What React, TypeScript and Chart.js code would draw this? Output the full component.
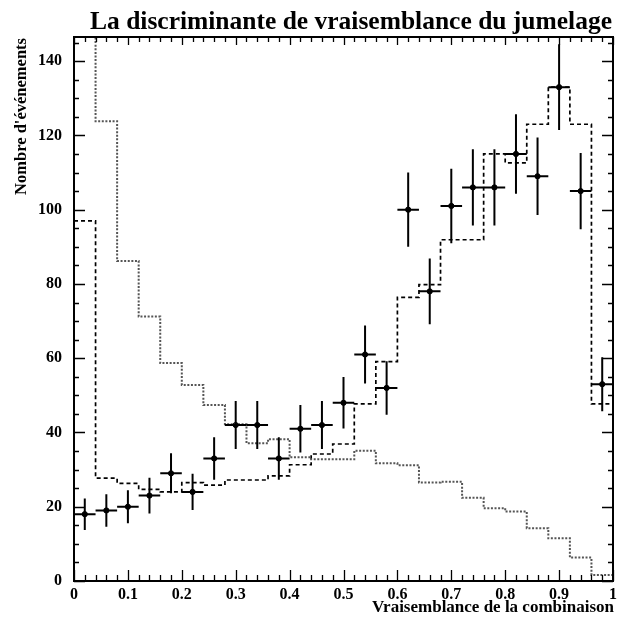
import { useEffect, useRef } from "react";
import { Chart, registerables } from "chart.js";

Chart.register(...registerables);

// Histogram binning on the likelihood axis
const binWidth = 0.04;
const binCenters = [
  0.02, 0.06, 0.1, 0.14, 0.18, 0.22, 0.26, 0.3, 0.34, 0.38, 0.42, 0.46, 0.5,
  0.54, 0.58, 0.62, 0.66, 0.7, 0.74, 0.78, 0.82, 0.86, 0.9, 0.94, 0.98,
];

// Observed event counts (error bars are sqrt(N))
const observed = [
  18, 19, 20, 23, 29, 24, 33, 42, 42, 33, 41, 42, 48, 61, 52, 100, 78, 101, 106,
  106, 115, 109, 133, 105, 53,
];

// Expected total (dashed histogram)
const expectedTotal = [
  97, 27.7, 26.3, 24.7, 24, 26.5, 25.8, 27.2, 27.2, 28.3, 31.3, 34.2, 36.9,
  47.7, 59.1, 76.4, 79.8, 91.9, 91.9, 115, 112.6, 123, 133, 123, 47.7,
];

// Expected combinatorial background (dotted histogram)
const expectedBackground = [
  190, 123.8, 86.2, 71.2, 58.7, 52.8, 47.4, 42.2, 37.1, 38.2, 33.3, 32.8, 32.8,
  35.1, 31.7, 31.2, 26.5, 26.7, 22.4, 19.6, 18.7, 14.2, 11.5, 6.3, 1.6,
];

// Axis ranges and tick spacing
const xMin = 0;
const xMax = 1;
const xMajorStep = 0.1;
const xMinorStep = 0.02;
const yMin = 0;
const yMax = 146.5;
const yMajorStep = 20;
const yMinorStep = 5;

const titleText = "La discriminante de vraisemblance du jumelage";
const xTitle = "Vraisemblance de la combinaison";
const yTitle = "Nombre d'événements";

const SERIF = "'Liberation Serif', 'Times New Roman', serif";

function stepPoints(values: number[]) {
  const pts = values.map((v, i) => ({ x: binCenters[i] - binWidth / 2, y: v }));
  const last = values.length - 1;
  pts.push({ x: binCenters[last] + binWidth / 2, y: values[last] });
  return pts;
}

const frameTicksTitles = {
  id: "frameTicksTitles",
  afterDatasetsDraw(chart: any) {
    const { ctx } = chart;
    const xs = chart.scales.x;
    const ys = chart.scales.y;
    ctx.save();
    ctx.strokeStyle = "#000";
    ctx.lineWidth = 2;
    // error bars for the observed counts
    observed.forEach((n, i) => {
      const cx = xs.getPixelForValue(binCenters[i]);
      const cy = ys.getPixelForValue(n);
      const err = Math.sqrt(n);
      const yTop = ys.getPixelForValue(n + err);
      const yBot = ys.getPixelForValue(n - err);
      const xl = xs.getPixelForValue(binCenters[i] - binWidth / 2);
      const xr = xs.getPixelForValue(binCenters[i] + binWidth / 2);
      ctx.beginPath();
      ctx.moveTo(cx, yTop);
      ctx.lineTo(cx, yBot);
      ctx.moveTo(xl, cy);
      ctx.lineTo(xr, cy);
      ctx.stroke();
    });
    ctx.restore();
  },
  afterDraw(chart: any) {
    const { ctx, chartArea: a } = chart;
    const xs = chart.scales.x;
    const ys = chart.scales.y;
    ctx.save();
    ctx.strokeStyle = "#000";

    // inward ticks on all four sides
    ctx.lineWidth = 1.3;
    ctx.beginPath();
    const nx = Math.round((xMax - xMin) / xMinorStep);
    for (let k = 0; k <= nx; k++) {
      const v = xMin + k * xMinorStep;
      const major = k % Math.round(xMajorStep / xMinorStep) === 0;
      const px = Math.round(xs.getPixelForValue(v)) + 0.5;
      ctx.moveTo(px, a.bottom);
      ctx.lineTo(px, a.bottom - (major ? 11 : 6));
      ctx.moveTo(px, a.top);
      ctx.lineTo(px, a.top + (major ? 8 : 5));
    }
    const ny = Math.floor((yMax - yMin) / yMinorStep);
    for (let k = 0; k <= ny; k++) {
      const v = yMin + k * yMinorStep;
      const major = k % Math.round(yMajorStep / yMinorStep) === 0;
      const py = Math.round(ys.getPixelForValue(v)) + 0.5;
      ctx.moveTo(a.left, py);
      ctx.lineTo(a.left + (major ? 11 : 5), py);
      ctx.moveTo(a.right, py);
      ctx.lineTo(a.right - (major ? 11 : 5), py);
    }
    ctx.stroke();

    // frame
    ctx.lineWidth = 2;
    ctx.strokeRect(a.left, a.top, a.right - a.left, a.bottom - a.top);

    // titles
    ctx.fillStyle = "#000";
    ctx.font = `bold 25.5px ${SERIF}`;
    ctx.textAlign = "center";
    ctx.textBaseline = "alphabetic";
    ctx.fillText(titleText, 351, 29);

    ctx.font = `bold 17px ${SERIF}`;
    ctx.textAlign = "right";
    ctx.fillText(xTitle, a.right + 1, 612);

    ctx.save();
    ctx.translate(26, a.top + 1);
    ctx.rotate(-Math.PI / 2);
    ctx.font = `bold 16.5px ${SERIF}`;
    ctx.textAlign = "right";
    ctx.fillText(yTitle, 0, 0);
    ctx.restore();

    ctx.restore();
  },
};

export default function App() {
  const canvasRef = useRef<HTMLCanvasElement | null>(null);

  useEffect(() => {
    document.body.style.margin = "0";
    const canvas = canvasRef.current;
    if (!canvas) return;

    const chart = new Chart(canvas, {
      type: "line",
      data: {
        datasets: [
          {
            label: "background",
            data: stepPoints(expectedBackground),
            stepped: "before",
            borderColor: "#555",
            borderWidth: 2,
            borderDash: [2, 1.6],
            pointRadius: 0,
            fill: false,
          },
          {
            label: "total",
            data: stepPoints(expectedTotal),
            stepped: "before",
            borderColor: "#000",
            borderWidth: 1.7,
            borderDash: [4, 3],
            pointRadius: 0,
            fill: false,
          },
          {
            type: "scatter",
            label: "data",
            data: observed.map((n, i) => ({ x: binCenters[i], y: n })),
            pointRadius: 2.6,
            pointBackgroundColor: "#000",
            pointBorderColor: "#000",
            showLine: false,
          } as any,
        ],
      },
      options: {
        responsive: false,
        animation: false,
        layout: { padding: { top: 37, right: 4, left: 0, bottom: 0 } },
        plugins: {
          legend: { display: false },
          title: { display: false },
          tooltip: { enabled: false },
        },
        scales: {
          x: {
            type: "linear",
            min: xMin,
            max: xMax,
            grid: { display: false, drawTicks: false },
            border: { display: false },
            afterFit: (s: any) => {
              s.height = 39;
            },
            ticks: {
              stepSize: xMajorStep,
              includeBounds: false,
              padding: 4,
              maxRotation: 0,
              autoSkip: false,
              color: "#000",
              font: { family: SERIF, size: 16, weight: "bold" },
              callback: (v: any) => {
                const n = Number(v);
                if (Math.abs(n) < 1e-9) return "0";
                if (Math.abs(n - 1) < 1e-9) return "1";
                return n.toFixed(1);
              },
            },
          },
          y: {
            type: "linear",
            min: yMin,
            max: yMax,
            grid: { display: false, drawTicks: false },
            border: { display: false },
            afterFit: (s: any) => {
              s.width = 74;
            },
            ticks: {
              stepSize: yMajorStep,
              includeBounds: false,
              padding: 12,
              autoSkip: false,
              color: "#000",
              font: { family: SERIF, size: 16, weight: "bold" },
            },
          },
        },
      },
      plugins: [frameTicksTitles],
    });

    return () => chart.destroy();
  }, []);

  return (
    <div style={{ width: 621, height: 620, background: "#fff" }}>
      <canvas ref={canvasRef} width={621} height={620} style={{ display: "block" }} />
    </div>
  );
}
